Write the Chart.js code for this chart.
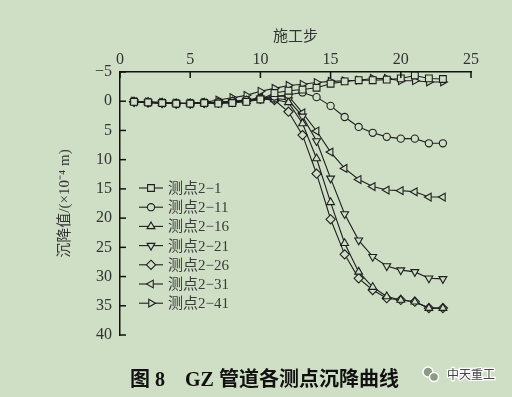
<!DOCTYPE html>
<html>
<head>
<meta charset="utf-8">
<script src="https://cdn.jsdelivr.net/npm/chart.js@4"></script>
<style>
  html, body { margin: 0; padding: 0; background: #cfdfc5; }
  #wrap { width: 512px; height: 397px; }
</style>
</head>
<body>
<div id="wrap"><canvas id="myChart" width="512" height="397"></canvas></div>
<script>
const ctx = document.getElementById('myChart').getContext('2d');

const BG = '#cfdfc5';
const INK = '#1e1e1e';
const FONT = '"Liberation Serif", "Noto Sans CJK SC", serif';

// 施工步
const steps = [1, 2, 3, 4, 5, 6, 7, 8, 9, 10, 11, 12, 13, 14, 15, 16, 17, 18, 19, 20, 21, 22, 23];

// 沉降值 (×10^-4 m)
const p2_1  = [0.1, 0.2, 0.3, 0.4, 0.4, 0.3, 0.4, 0.3, 0.1, -0.3, -1.4, -1.8, -2.0, -2.3, -3.0, -3.4, -3.6, -3.6, -3.7, -3.9, -4.4, -3.9, -3.8];
const p2_11 = [0.1, 0.2, 0.3, 0.4, 0.4, 0.3, 0.2, 0.0, -0.2, -0.4, -0.8, -1.1, -1.5, -0.7, 0.8, 2.7, 4.4, 5.4, 6.1, 6.4, 6.4, 7.2, 7.2];
const p2_16 = [0.1, 0.2, 0.3, 0.4, 0.4, 0.3, 0.2, 0.1, 0.0, -0.5, -0.3, 0.2, 3.8, 9.8, 17.3, 24.3, 29.2, 31.8, 33.4, 34.0, 34.3, 35.4, 35.4];
const p2_21 = [0.1, 0.2, 0.3, 0.4, 0.4, 0.3, 0.2, 0.1, -0.1, -0.5, -0.5, -0.2, 2.6, 6.8, 13.2, 19.3, 23.8, 26.6, 28.2, 28.9, 29.2, 30.3, 30.4];
const p2_26 = [0.1, 0.2, 0.3, 0.4, 0.4, 0.3, 0.3, 0.1, -0.1, -0.4, -0.2, 1.8, 5.8, 12.4, 20.2, 26.2, 30.3, 32.3, 33.7, 34.0, 34.3, 35.4, 35.4];
const p2_31 = [0.1, 0.2, 0.3, 0.4, 0.4, 0.3, 0.2, 0.0, -0.2, -0.6, -0.8, -0.9, 2.0, 5.1, 8.7, 11.5, 13.4, 14.6, 15.2, 15.3, 15.5, 16.4, 16.4];
const p2_41 = [0.0, 0.1, 0.2, 0.3, 0.3, 0.2, -0.2, -0.6, -1.0, -1.7, -2.2, -2.7, -2.9, -3.2, -3.4, -3.5, -3.6, -3.9, -3.9, -3.5, -3.5, -3.3, -3.3];

const xTicks = [0, 5, 10, 15, 20, 25];
const yTicks = [-5, 0, 5, 10, 15, 20, 25, 30, 35, 40];

const series = [
	{ label: '测点2−1',  values: p2_1,  style: 'rect',     rot: 0,   r: 4.8 },
	{ label: '测点2−11', values: p2_11, style: 'circle',   rot: 0,   r: 3.6 },
	{ label: '测点2−16', values: p2_16, style: 'triangle', rot: 0,   r: 4.5 },
	{ label: '测点2−21', values: p2_21, style: 'triangle', rot: 180, r: 4.5 },
	{ label: '测点2−26', values: p2_26, style: 'rectRot',  rot: 0,   r: 4.6 },
	{ label: '测点2−31', values: p2_31, style: 'triangle', rot: 270, r: 4.5 },
	{ label: '测点2−41', values: p2_41, style: 'triangle', rot: 90,  r: 4.5 }
];

const data = {
	datasets: series.map(s => ({
		label: s.label,
		data: steps.map((x, i) => ({ x, y: s.values[i] })),
		borderColor: INK,
		borderWidth: 1.1,
		pointStyle: s.style,
		rotation: s.rot,
		pointRadius: s.r,
		pointBorderWidth: 1.1,
		pointBorderColor: INK,
		pointBackgroundColor: BG,
		tension: 0
	}))
};

// legend marker, same shapes as Chart.js point styles
function marker(c, style, r, rot, x, y) {
	const a = rot * Math.PI / 180;
	c.beginPath();
	if (style === 'circle') {
		c.arc(x, y, r, 0, Math.PI * 2);
	} else if (style === 'rect') {
		const s = r * Math.SQRT1_2;
		c.rect(x - s, y - s, 2 * s, 2 * s);
	} else if (style === 'rectRot') {
		c.moveTo(x, y - r); c.lineTo(x + r, y); c.lineTo(x, y + r); c.lineTo(x - r, y);
		c.closePath();
	} else {
		for (let k = 0; k < 3; k++) {
			const t = a + k * 2 * Math.PI / 3;
			const px = x + Math.sin(t) * r, py = y - Math.cos(t) * r;
			if (k === 0) c.moveTo(px, py); else c.lineTo(px, py);
		}
		c.closePath();
	}
	c.fill();
	c.stroke();
}

// background, inward ticks, legend, caption
const decor = {
	id: 'decor',
	beforeDraw(chart) {
		const c = chart.ctx;
		c.save();
		c.fillStyle = BG;
		c.fillRect(0, 0, chart.width, chart.height);
		c.restore();
	},
	afterDraw(chart) {
		const c = chart.ctx;
		const xs = chart.scales.x, ys = chart.scales.y;
		const area = chart.chartArea;
		c.save();
		c.strokeStyle = '#111';
		c.lineWidth = 1.5;
		xTicks.forEach(v => {
			const px = xs.getPixelForValue(v);
			c.beginPath(); c.moveTo(px, area.top); c.lineTo(px, area.top + 6); c.stroke();
		});
		yTicks.forEach(v => {
			const py = ys.getPixelForValue(v);
			c.beginPath(); c.moveTo(area.left, py); c.lineTo(area.left + 6, py); c.stroke();
		});

		// legend
		c.font = '15px ' + FONT;
		c.textBaseline = 'middle';
		chart.data.datasets.forEach((ds, i) => {
			const y = 188 + i * 19.2;
			c.strokeStyle = INK;
			c.lineWidth = 1.1;
			c.beginPath(); c.moveTo(139, y); c.lineTo(163, y); c.stroke();
			c.fillStyle = BG;
			marker(c, ds.pointStyle, ds.pointRadius, ds.rotation, 151, y);
			c.fillStyle = '#3a3a3a';
			c.fillText(ds.label, 168, y + 1);
		});

		// caption
		c.fillStyle = '#111';
		c.textBaseline = 'middle';
		c.font = 'bold 20px ' + FONT;
		c.fillText('图 8', 130, 381);
		c.fillText('GZ 管道各测点沉降曲线', 185, 381);

		// watermark
		c.strokeStyle = '#fff';
		c.lineWidth = 1.5;
		c.fillStyle = '#8a9a86';
		c.beginPath(); c.arc(428, 372, 5, 0, Math.PI * 2); c.fill(); c.stroke();
		c.beginPath(); c.arc(434, 377, 4.5, 0, Math.PI * 2); c.fill(); c.stroke();
		c.font = '12px "Noto Sans CJK SC", sans-serif';
		c.lineWidth = 2.5;
		c.strokeText('中天重工', 447, 374);
		c.fillStyle = '#444';
		c.fillText('中天重工', 447, 374);
		c.restore();
	}
};

const config = {
	type: 'line',
	data: data,
	plugins: [decor],
	options: {
		responsive: false,
		animation: false,
		layout: {
			padding: { left: 52, top: 22, right: 41, bottom: 62 }
		},
		plugins: {
			legend: { display: false },
			tooltip: { enabled: false }
		},
		scales: {
			x: {
				type: 'linear',
				position: 'top',
				min: 0,
				max: 25,
				grid: { display: false, drawTicks: false },
				border: { display: true, color: '#111', width: 1.5 },
				ticks: {
					stepSize: 5,
					color: '#333',
					padding: 3,
					font: { family: FONT, size: 16 }
				},
				title: {
					display: true,
					text: '施工步',
					color: '#333',
					padding: { top: 6, bottom: 2 },
					font: { family: FONT, size: 15 }
				},
				afterFit(scale) { scale.height = 50; }
			},
			y: {
				type: 'linear',
				reverse: true,
				min: -5,
				max: 40,
				grid: { display: false, drawTicks: false },
				border: { display: true, color: '#111', width: 1.5 },
				ticks: {
					stepSize: 5,
					color: '#333',
					padding: 8,
					font: { family: FONT, size: 16 },
					callback: function (value) {
						return String(value).replace('-', '\u2212');
					}
				},
				title: {
					display: true,
					text: '沉降值/(×10⁻⁴ m)',
					color: '#333',
					padding: { top: 4, bottom: 0 },
					font: { family: FONT, size: 15 }
				},
				afterFit(scale) { scale.width = 68; }
			}
		}
	}
};

const myChart = new Chart(ctx, config);
</script>
</body>
</html>
